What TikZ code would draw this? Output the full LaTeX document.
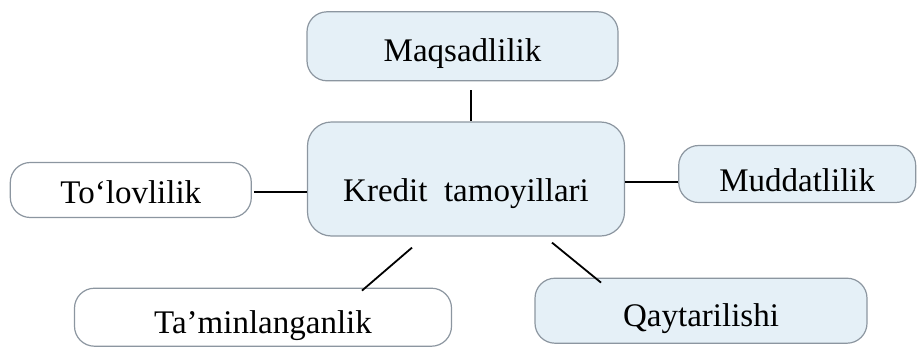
\documentclass[tikz,border=0pt]{standalone}
\usepackage{fontspec}
\setmainfont{Liberation Serif}
\usetikzlibrary{positioning}

\definecolor{bleuclair}{RGB}{229,240,247}
\definecolor{bord}{RGB}{140,150,160}

\begin{document}
\begin{tikzpicture}[
    font=\fontsize{16.5}{20}\selectfont,
    boite/.style={draw=bord, line width=0.6pt, rounded corners=10pt, align=center, inner sep=0pt, text depth=3.5pt},
    pleine/.style={boite, fill=bleuclair},
    vide/.style={boite, fill=white},
    decale/.style={text height=#1},
    lien/.style={line width=0.9pt},
  ]
  \useasboundingbox (0,0) rectangle (459.5pt,-174pt);
  % --- Centre ---
  \node[pleine, decale=26.4pt, minimum width=158.5pt, minimum height=57pt, rounded corners=12pt] (kredit) at (233pt,-89.5pt) {Kredit\ \ tamoyillari};
  % --- Principes ---
  \node[pleine, decale=18.9pt, minimum width=155.5pt, minimum height=34.5pt, above=20pt of kredit, xshift=-1.75pt] (maqsad) {Maqsadlilik};
  \node[vide, decale=17.4pt, minimum width=120.5pt, minimum height=27.5pt, left=27.5pt of kredit, yshift=-5.5pt] (tolov) {To‘lovlilik};
  \node[pleine, decale=20.9pt, minimum width=118.5pt, minimum height=28.5pt, right=26.5pt of kredit, yshift=2.5pt] (muddat) {Muddatlilik};
  \node[vide, decale=19.4pt, minimum width=188.5pt, minimum height=29pt, below=25.5pt of kredit, xshift=-101.5pt] (taminlangan) {Ta’minlanganlik};
  \node[pleine, decale=18.9pt, minimum width=166pt, minimum height=32.5pt, below=20.5pt of kredit, xshift=117.5pt] (qaytar) {Qaytarilishi};

  % Liaisons
  \draw[lien, shorten <=4.5pt] ([xshift=2.5pt]kredit.north |- maqsad.south) -- ([xshift=2.5pt]kredit.north);
  \draw[lien, shorten <=1pt] ([yshift=-1pt]tolov.east) -- ([yshift=-1pt]tolov.east -| kredit.west);
  \draw[lien] ([yshift=-1.5pt]kredit.east) -- ([yshift=-1.5pt]kredit.east -| muddat.west);
  \draw[lien] ([xshift=-27pt,yshift=-5.5pt]kredit.south) -- ([xshift=49.5pt,yshift=-1.5pt]taminlangan.north);
  \draw[lien] ([xshift=43pt,yshift=-3pt]kredit.south) -- ([xshift=-50pt,yshift=-2.5pt]qaytar.north);
\end{tikzpicture}
\end{document}
